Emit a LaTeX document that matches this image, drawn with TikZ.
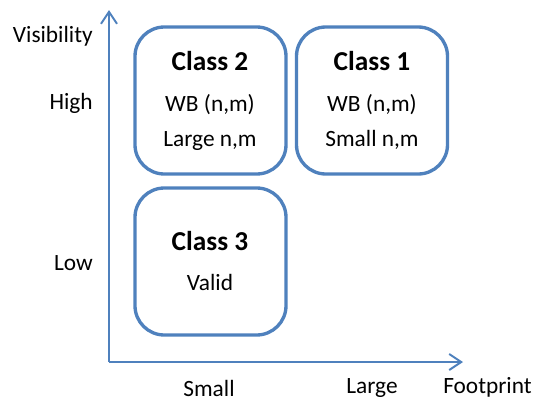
\documentclass[tikz,border=0pt]{standalone}
\usepackage{fontspec}
\setmainfont{Carlito}
\usetikzlibrary{arrows.meta}
\definecolor{axisblue}{HTML}{4F81BD}
\definecolor{boxblue}{HTML}{4F81BD}
\tikzset{
  classbox/.style={draw=boxblue, line width=2.5pt, rounded corners=22pt, fill=white,
    minimum width=151*0.75pt, minimum height=147*0.75pt, inner sep=0pt},
  title/.style={font=\fontsize{20.5pt}{24pt}\selectfont\bfseries, anchor=base, inner sep=0pt},
  body/.style={font=\fontsize{17.5pt}{21pt}\selectfont, anchor=base, inner sep=0pt},
  axis/.style={draw=axisblue, line width=1.5pt, -{Straight Barb[length=9pt,width=12pt,line width=1.5pt]}},
}
\begin{document}
\begin{tikzpicture}[x=0.75pt,y=-0.75pt]
\useasboundingbox (0,0) rectangle (550,419);
\coordinate (origin) at (109,362);
\coordinate (ytip) at (109,10);
\coordinate (xtip) at (463,362);
\draw[axis] (origin) -- (ytip);
\draw[axis] (origin) -- (xtip);

\node[classbox] (c2) at (210.5,100.5) {};
\node[classbox] (c1) at (372,100.5) {};
\node[classbox] (c3) at (210.5,261.5) {};

\node[title] (c2t) at (210,70.5) {Class 2};
\node[body] (c2a) at (210,111) {WB (n,m)};
\node[body] (c2b) at (210,146.5) {Large n,m};

\node[title] (c1t) at (372,70.5) {Class 1};
\node[body] (c1a) at (372,111) {WB (n,m)};
\node[body] (c1b) at (372,146.5) {Small n,m};

\node[title] (c3t) at (210,250.5) {Class 3};
\node[body] (c3a) at (210,290) {Valid};

\node[body, anchor=base east] (vis) at (93,42.5) {Visibility};
\node[body, anchor=base east] (high) at (93,109.5) {High};
\node[body, anchor=base east] (low) at (93,270) {Low};
\node[body] (small) at (209,396.5) {Small};
\node[body] (large) at (372,393) {Large};
\node[body, anchor=base west] (foot) at (443,393) {Footprint};
\end{tikzpicture}
\end{document}
